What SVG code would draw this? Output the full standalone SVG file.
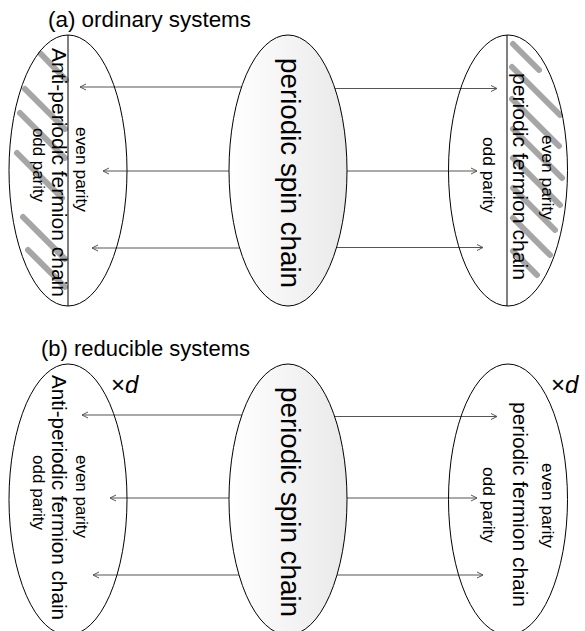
<svg xmlns="http://www.w3.org/2000/svg" width="585" height="631" viewBox="0 0 585 631">
  <defs>
    <linearGradient id="g" x1="0" y1="0" x2="1" y2="0">
      <stop offset="0" stop-color="#ffffff"/>
      <stop offset="1" stop-color="#e9e9e9"/>
    </linearGradient>
    <marker id="ah" markerWidth="10" markerHeight="10" viewBox="-8 -5 10 10" refX="0" refY="0" orient="auto" markerUnits="userSpaceOnUse">
      <path d="M-6,-3 L0,0 L-6,3" fill="none" stroke="#555" stroke-width="1"/>
    </marker>
  </defs>
  <style>
    .ell{fill:none;stroke:#000;stroke-width:1}
    .ctr{fill:url(#g);stroke:#000;stroke-width:1}
    .div{stroke:#000;stroke-width:1}
    .t{font-family:"Liberation Sans",Arial,sans-serif;fill:#000}
    .big{font-size:27px}
    .mid{font-size:21px}
    .mid2{font-size:20px}
    .sm{font-size:16px}
    .ttl{font-size:22px}
    .xd{font-size:24px}
    .hatch{stroke:#a6a6a6;stroke-width:6;stroke-linecap:round}
    .conn{stroke:#555;stroke-width:1;fill:none;marker-end:url(#ah)}
  </style>

  <g id="connectors">
    <path class="conn" d="M288,87 L80,87"/>
    <path class="conn" d="M288,88.5 L497,88.5"/>
    <path class="conn" d="M288,171 L103,171"/>
    <path class="conn" d="M288,171 L477,171"/>
    <path class="conn" d="M288,248 L92,248"/>
    <path class="conn" d="M288,247.5 L483,247.5"/>
    <path class="conn" d="M288,415 L82,415"/>
    <path class="conn" d="M288,416.5 L497,416.5"/>
    <path class="conn" d="M288,498 L110,498"/>
    <path class="conn" d="M288,498 L477,498"/>
    <path class="conn" d="M288,575 L93,575"/>
    <path class="conn" d="M288,575 L483,575"/>
  </g>

  <g id="title-a">
    <text class="t ttl" x="48" y="26.5" textLength="203" lengthAdjust="spacingAndGlyphs">(a) ordinary systems</text>
  </g>
  <g id="title-b">
    <text class="t ttl" x="41" y="356" textLength="209" lengthAdjust="spacingAndGlyphs">(b) reducible systems</text>
  </g>

  <g id="a-left">
    <line class="hatch" x1="41" y1="54" x2="66" y2="80"/>
    <line class="hatch" x1="25" y1="89" x2="65" y2="129"/>
    <line class="hatch" x1="20" y1="113" x2="65" y2="158"/>
    <line class="hatch" x1="17" y1="153" x2="62" y2="198"/>
    <line class="hatch" x1="23" y1="217" x2="65" y2="259"/>
    <line class="hatch" x1="28" y1="250" x2="65" y2="287"/>
    <ellipse class="ell" cx="68" cy="170.5" rx="59" ry="135.5"/>
    <line class="div" x1="68" y1="35" x2="68" y2="306"/>
    <text class="t mid" transform="translate(51.5,172.5) rotate(90)" text-anchor="middle" textLength="249" lengthAdjust="spacingAndGlyphs">Anti-periodic fermion chain</text>
    <text class="t sm" transform="translate(76,169.5) rotate(90)" text-anchor="middle" textLength="85" lengthAdjust="spacingAndGlyphs">even parity</text>
    <text class="t sm" transform="translate(33,165) rotate(90)" text-anchor="middle" textLength="74" lengthAdjust="spacingAndGlyphs">odd parity</text>
  </g>

  <g id="a-center">
    <ellipse class="ctr" cx="288" cy="170.5" rx="59" ry="135.5"/>
    <text class="t big" transform="translate(280.7,173) rotate(90)" text-anchor="middle" textLength="230" lengthAdjust="spacingAndGlyphs">periodic spin chain</text>
  </g>

  <g id="a-right">
    <line class="hatch" x1="513" y1="44" x2="539" y2="70"/>
    <line class="hatch" x1="512" y1="67" x2="560" y2="115"/>
    <line class="hatch" x1="512" y1="99" x2="559" y2="146"/>
    <line class="hatch" x1="513" y1="129" x2="562" y2="178"/>
    <line class="hatch" x1="513" y1="158" x2="560" y2="205"/>
    <line class="hatch" x1="513" y1="188" x2="555" y2="230"/>
    <line class="hatch" x1="513" y1="218" x2="550" y2="255"/>
    <line class="hatch" x1="513" y1="251" x2="537" y2="275"/>
    <ellipse class="ell" cx="508" cy="170.5" rx="59.5" ry="135.5"/>
    <line class="div" x1="507" y1="35" x2="507" y2="306"/>
    <text class="t mid2" transform="translate(513.2,176.5) rotate(90)" text-anchor="middle" textLength="207" lengthAdjust="spacingAndGlyphs">periodic fermion chain</text>
    <text class="t sm" transform="translate(542,177.5) rotate(90)" text-anchor="middle" textLength="85" lengthAdjust="spacingAndGlyphs">even parity</text>
    <text class="t sm" transform="translate(482.5,175) rotate(90)" text-anchor="middle" textLength="76" lengthAdjust="spacingAndGlyphs">odd parity</text>
  </g>

  <g id="b-left">
    <ellipse class="ell" cx="68" cy="499.5" rx="59" ry="135.5"/>
    <text class="t mid" transform="translate(51.5,497.5) rotate(90)" text-anchor="middle" textLength="245" lengthAdjust="spacingAndGlyphs">Anti-periodic fermion chain</text>
    <text class="t sm" transform="translate(76,496.5) rotate(90)" text-anchor="middle" textLength="83" lengthAdjust="spacingAndGlyphs">even parity</text>
    <text class="t sm" transform="translate(33,492.5) rotate(90)" text-anchor="middle" textLength="75" lengthAdjust="spacingAndGlyphs">odd parity</text>
    <text class="t xd" x="111" y="393">×<tspan font-style="italic">d</tspan></text>
  </g>

  <g id="b-center">
    <ellipse class="ctr" cx="288" cy="499.5" rx="59" ry="135.5"/>
    <text class="t big" transform="translate(280.7,502) rotate(90)" text-anchor="middle" textLength="230" lengthAdjust="spacingAndGlyphs">periodic spin chain</text>
  </g>

  <g id="b-right">
    <ellipse class="ell" cx="508" cy="499.5" rx="59.5" ry="135.5"/>
    <text class="t mid2" transform="translate(513.2,504.5) rotate(90)" text-anchor="middle" textLength="205" lengthAdjust="spacingAndGlyphs">periodic fermion chain</text>
    <text class="t sm" transform="translate(542,505.5) rotate(90)" text-anchor="middle" textLength="85" lengthAdjust="spacingAndGlyphs">even parity</text>
    <text class="t sm" transform="translate(482.5,505) rotate(90)" text-anchor="middle" textLength="76" lengthAdjust="spacingAndGlyphs">odd parity</text>
    <text class="t xd" x="551" y="393">×<tspan font-style="italic">d</tspan></text>
  </g>
</svg>
